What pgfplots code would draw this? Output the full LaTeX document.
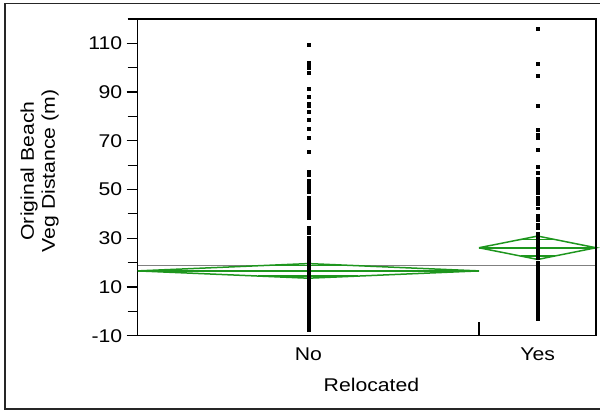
\documentclass[border=0pt]{standalone}
\usepackage{fontspec}
\setmainfont{Liberation Sans}[FakeStretch=1.15]
\usepackage{pgfplots}
\pgfplotsset{compat=1.18}
\definecolor{diamondgreen}{RGB}{30,150,30}
\definecolor{meanGray}{RGB}{128,128,128}

\begin{document}
\begin{tikzpicture}
\useasboundingbox (0,0) rectangle (600bp,410bp);
\begin{axis}[
  at={(137.7bp,74.3bp)}, anchor=south west,
  scale only axis, width=458.3bp, height=316.7bp,
  xmin=0, xmax=458.3, ymin=-10, ymax=120,
  clip=false,
  axis line style={line width=1.5bp},
  font=\fontsize{18.5}{21}\selectfont,
  tick align=outside,
  ytick pos=left, xtick pos=bottom,
  major tick length=11bp, minor tick length=10bp,
  tick style={line width=1.2bp, black},
  ytick={-10,10,30,50,70,90,110},
  yticklabels={-10,10,30,50,70,90,110},
  minor ytick={0,20,40,60,80,100,120},
  xtick={170.7,400}, xticklabels={No,Yes},
  xtick style={draw=none},
  x tick label style={yshift=2bp},
  y tick label style={xshift=-1bp},
  xlabel={Relocated},
  xlabel style={at={(axis description cs:0.51,-0.155)}, anchor=center},
  ylabel={Original Beach\\Veg Distance (m)},
  ylabel style={at={(axis description cs:-0.214,0.52)}, anchor=center, align=center},
]
% grand mean
\addplot[meanGray, line width=1.4bp] coordinates {(0,18.9) (458.3,18.9)};

% No diamond
\addplot[diamondgreen, line width=1.5bp] coordinates {(0,16.6) (170.7,19.6) (341.3,16.6) (170.7,13.6) (0,16.6)};
\addplot[diamondgreen, line width=1.5bp] coordinates {(0,16.6) (341.3,16.6)};
\addplot[diamondgreen, line width=1.5bp] coordinates {(120.7,18.72) (220.7,18.72)};
\addplot[diamondgreen, line width=1.5bp] coordinates {(120.7,14.48) (220.7,14.48)};

% Yes diamond
\addplot[diamondgreen, line width=1.5bp] coordinates {(341.3,26.1) (400,30.9) (458.3,26.1) (400,21.3) (341.3,26.1)};
\addplot[diamondgreen, line width=1.5bp] coordinates {(341.3,26.1) (458.3,26.1)};
\addplot[diamondgreen, line width=1.5bp] coordinates {(382.8,29.48) (417.2,29.48)};
\addplot[diamondgreen, line width=1.5bp] coordinates {(382.8,22.72) (417.2,22.72)};

% No points
\addplot[only marks, mark=square*, mark size=1.4bp, black] coordinates {
(170.7,109.6) (170.7,101.9) (170.7,101.1) (170.7,100.1) (170.7,97.9)
(170.7,91.5) (170.7,88.1) (170.7,85.1) (170.7,84.3) (170.7,81.9)
(170.7,78.6) (170.7,74.9) (170.7,71.4) (170.7,65.5) (170.7,57.2)
(170.7,56.2) (170.7,53.5) (170.7,52.5) (170.7,51.5) (170.7,50.5)
(170.7,49.2) (170.7,46.5) (170.7,45.4) (170.7,44) (170.7,43)
(170.7,42) (170.7,40.8) (170.7,39.6) (170.7,38.2)
(170.7,34.5) (170.7,33.4) (170.7,32.2)
(170.7,30.2) (170.7,29) (170.7,28) (170.7,27) (170.7,26) (170.7,25)
(170.7,24) (170.7,23) (170.7,22) (170.7,21) (170.7,20) (170.7,19)
(170.7,18) (170.7,17) (170.7,16) (170.7,15) (170.7,14) (170.7,13)
(170.7,12) (170.7,11) (170.7,10) (170.7,9) (170.7,8) (170.7,7)
(170.7,6) (170.7,5) (170.7,4) (170.7,3) (170.7,2) (170.7,1)
(170.7,0) (170.7,-1) (170.7,-2) (170.7,-3) (170.7,-4) (170.7,-5)
(170.7,-6) (170.7,-7) (170.7,-7.6)
};

% Yes points
\addplot[only marks, mark=square*, mark size=1.4bp, black] coordinates {
(400,116.1) (400,101.8) (400,96.6) (400,84.3) (400,74.4)
(400,72.4) (400,71.4) (400,66.2) (400,59.3) (400,56.9)
(400,54.3) (400,53.2) (400,52.1) (400,51) (400,49.8)
(400,48.6) (400,46.6) (400,45.7) (400,44.3) (400,42.3)
(400,39.5) (400,38.4) (400,37.4) (400,35.4) (400,34.2)
(400,32) (400,31) (400,30) (400,29) (400,28) (400,27)
(400,26) (400,25) (400,24) (400,23) (400,22)
(400,20) (400,19) (400,18) (400,17)
(400,16.2) (400,15) (400,14) (400,13) (400,12) (400,11)
(400,9.5) (400,8.2) (400,7) (400,6)
(400,4.5) (400,3.4) (400,2.3) (400,1.2) (400,0)
(400,-1.5) (400,-2.9)
};

% group separator tick, top and right sides of the frame
\draw[line width=1.2bp] (axis cs:341.3,-10) -- ++(0,-11bp);
\draw[line width=1.5bp, black] (rel axis cs:0,1) -- (rel axis cs:1,1) -- (rel axis cs:1,0);
\end{axis}
% outer frame
\draw[line width=1.5bp, black!85] (5bp,406.6bp) -- (5bp,1.2bp) -- (599.5bp,1.2bp);
\draw[line width=1.5bp, black!85] (5bp,406.6bp) -- (599.5bp,406.6bp);
\end{tikzpicture}
\end{document}
